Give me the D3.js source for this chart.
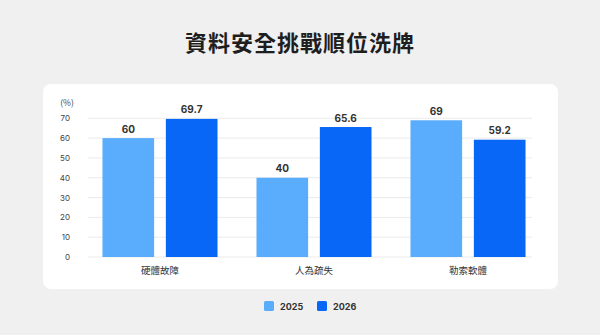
<!DOCTYPE html>
<html><head><meta charset="utf-8">
<script src="https://cdn.jsdelivr.net/npm/d3@7"></script>
<style>
html,body{margin:0;padding:0;background:#f0f0f0;}
svg{display:block;font-family:"Noto Sans CJK TC","Noto Sans",sans-serif;}
</style></head>
<body><svg id="c" width="600" height="335"></svg>
<script>
const title = "資料安全挑戰順位洗牌";
const categories = ["硬體故障", "人為疏失", "勒索軟體"];
const seriesNames = ["2025", "2026"];
const values2025 = [60, 40, 69];
const values2026 = [69.7, 65.6, 59.2];
const yTicks = [0, 10, 20, 30, 40, 50, 60, 70];
const unitLabel = "(%)";
const colors = ["#5aacfd", "#0867f6"];

const svg = d3.select("#c");
svg.append("rect").attr("width", 600).attr("height", 335).attr("fill", "#f0f0f0");
svg.append("text").attr("x", 300).attr("y", 51).attr("text-anchor", "middle")
  .attr("font-size", 22).attr("font-weight", 700).attr("fill", "#1e1e1e").attr("letter-spacing", 1).text(title);

svg.append("rect").attr("x", 43).attr("y", 84).attr("width", 515).attr("height", 205)
  .attr("rx", 8).attr("fill", "#ffffff");

const y = d3.scaleLinear().domain([0, 70]).range([257, 118.3]);
const x0 = d3.scaleBand().domain(categories).range([83, 545]).paddingInner(0.253).paddingOuter(0.1265);
const x1 = d3.scaleBand().domain(seriesNames).range([0, x0.bandwidth()]).paddingInner(0.185);

const grid = svg.append("g");
grid.selectAll("line").data(yTicks).join("line")
  .attr("x1", 88).attr("x2", 532)
  .attr("y1", d => y(d)).attr("y2", d => y(d))
  .attr("stroke", "#ebebeb").attr("stroke-width", 1);

const yAxis = svg.append("g").attr("transform", "translate(70,0)")
  .call(d3.axisLeft(y).tickValues(yTicks).tickSize(0).tickPadding(0));
yAxis.select(".domain").remove();
yAxis.selectAll("text").attr("font-size", 8).attr("fill", "#444").attr("font-family", "Inter, 'Noto Sans', sans-serif");

svg.append("text").attr("x", 67).attr("y", 106).attr("text-anchor", "middle")
  .attr("font-size", 8.5).attr("fill", "#444").text(unitLabel);

const data = categories.map((c, i) => ({cat: c, vals: [values2025[i], values2026[i]]}));
const groups = svg.append("g").selectAll("g").data(data).join("g")
  .attr("transform", d => `translate(${x0(d.cat)},0)`);
groups.selectAll("rect").data(d => d.vals.map((v, j) => ({s: seriesNames[j], v, j}))).join("rect")
  .attr("x", d => x1(d.s)).attr("width", x1.bandwidth())
  .attr("y", d => y(d.v)).attr("height", d => y(0) - y(d.v))
  .attr("fill", d => colors[d.j]);
groups.selectAll("text.v").data(d => d.vals.map((v, j) => ({s: seriesNames[j], v, j}))).join("text")
  .attr("class", "v")
  .attr("x", d => x1(d.s) + x1.bandwidth() / 2).attr("y", d => y(d.v) - 5.5)
  .attr("text-anchor", "middle").attr("font-size", 10).attr("font-weight", 700)
  .attr("font-family", "Inter, 'Noto Sans', sans-serif").attr("fill", "#333").text(d => d.v);

const xAxis = svg.append("g").attr("transform", `translate(0,${y(0)})`)
  .call(d3.axisBottom(x0).tickSize(0).tickPadding(10));
xAxis.select(".domain").remove();
xAxis.selectAll("text").attr("font-size", 9.5).attr("fill", "#333").attr("font-family", "'Noto Sans CJK TC', sans-serif");

const legend = svg.append("g");
const lg = legend.selectAll("g").data(seriesNames).join("g")
  .attr("transform", (d, i) => `translate(${264 + i * 53},301)`);
lg.append("rect").attr("width", 10).attr("height", 10).attr("rx", 1.5).attr("fill", (d, i) => colors[i]);
lg.append("text").attr("x", 16).attr("y", 8.5).attr("font-size", 9).attr("font-weight", 700)
  .attr("font-family", "Inter, 'Noto Sans', sans-serif").attr("fill", "#333").text(d => d);
</script></body></html>
